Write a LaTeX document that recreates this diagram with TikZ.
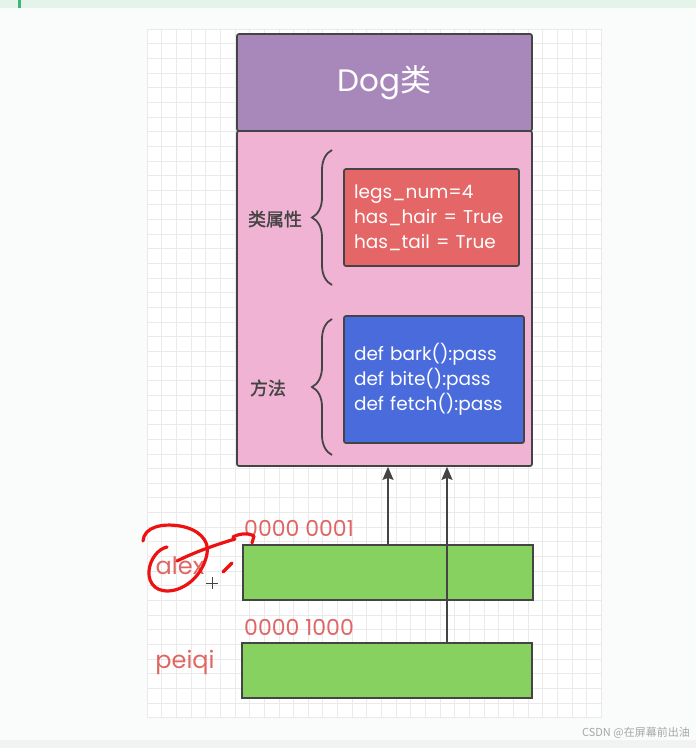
\documentclass[tikz,border=0pt]{standalone}
\usepackage{fontspec}
\setmainfont{Poppins}
\newfontfamily\cjk{Noto Sans CJK SC}
\newfontfamily\cjkb[FakeBold=1.5]{Noto Sans CJK SC}
\usetikzlibrary{arrows.meta,decorations.pathreplacing}
\definecolor{bgc}{HTML}{FAFBFB}
\definecolor{topband}{HTML}{E4F4EA}
\definecolor{topbar}{HTML}{3DB874}
\definecolor{botband}{HTML}{F1F2F2}
\definecolor{gridc}{HTML}{EAEAEA}
\definecolor{dogc}{HTML}{A887BB}
\definecolor{pinkc}{HTML}{F0B3D3}
\definecolor{redc}{HTML}{E46666}
\definecolor{bluec}{HTML}{4A6BDC}
\definecolor{greenc}{HTML}{87D160}
\definecolor{edgec}{HTML}{444444}
\definecolor{memc}{HTML}{E06666}
\definecolor{inkc}{HTML}{EE1111}
\tikzset{
  box/.style={draw=edgec, line width=1.7pt, rounded corners=2pt, inner sep=0pt},
  codebox/.style={box, minimum width=175pt, text width=155pt, inner xsep=10pt, align=left, text=white,
    font=\fontsize{18.5}{25}\selectfont},
  lbl/.style={text=edgec, font=\cjkb\fontsize{18}{20}\selectfont, inner sep=0pt},
  mem/.style={text=memc, font=\fontsize{22}{24}\selectfont, inner sep=0pt, anchor=west},
  var/.style={text=memc, font=\fontsize{24}{26}\selectfont, inner sep=0pt},
  brc/.style={draw=edgec, line width=1.8pt, decorate, decoration={brace, amplitude=20pt}},
  arr/.style={draw=edgec, line width=1.6pt, -{Stealth[length=13pt,width=11pt,inset=2pt,fill=edgec]}},
  ink/.style={draw=inkc, line width=3.2pt, line cap=round, line join=round},
  gridline/.style={draw=gridc, line width=0.7pt}
}
\begin{document}
\begin{tikzpicture}[x=1pt, y=-1pt]
% backgrounds
\fill[bgc] (0,0) rectangle (696,748);
\fill[topband] (0,0) rectangle (696,8);
\fill[topbar] (18,0) rectangle (21,8);
\fill[botband] (0,740) rectangle (696,748);
\fill[white] (147,29) rectangle (601,718);
\foreach \i in {0,...,31} \draw[gridline] ({147+14.65*\i},29) -- ({147+14.65*\i},718);
\foreach \j in {0,...,47} \draw[gridline] (147,{29+14.65*\j}) -- (601,{29+14.65*\j});
\useasboundingbox (0,0) rectangle (696,748);

% class boxes
\node[box, fill=pinkc, minimum width=295pt, minimum height=335pt] (pink) at (384.5,298.5) {};
\node[box, fill=dogc, minimum width=295pt, minimum height=97pt, text=white,
  font=\fontsize{31}{33}\selectfont] (dog) at (384.5,82.5) {Dog{\cjk 类}};
\node[codebox, fill=redc, minimum height=97pt] (attrs) at (431.5,217.5)
  {legs\_num=4\\has\_hair = True\\has\_tail = True};
\node[codebox, fill=bluec, minimum width=180pt, text width=160pt, minimum height=127pt] (meths) at (434,379.5)
  {def bark():pass\\def bite():pass\\def fetch():pass};

% braces and labels
\coordinate (b1t) at (332,150);
\coordinate (b1b) at (332,285);
\coordinate (b2t) at (332,319);
\coordinate (b2b) at (332,455);
\draw[brc] (b1b) -- (b1t);
\draw[brc] (b2b) -- (b2t);
\node[lbl] (l1) at (275,219) {类属性};
\node[lbl] (l2) at (268,388) {方法};

% memory boxes
\node[box, rounded corners=0pt, fill=greenc, minimum width=290pt, minimum height=55pt] (g1) at (388,572.5) {};
\node[box, rounded corners=0pt, fill=greenc, minimum width=290pt, minimum height=55pt] (g2) at (387,670.5) {};
\node[mem] (m1) at (244,528) {0000 0001};
\node[mem] (m2) at (244,627) {0000 1000};
\node[var] (v1) at (180,566) {alex};
\node[var] (v2) at (185,662) {peiqi};

% references
\coordinate (x1) at (388,0);
\coordinate (x2) at (447,0);
\draw[arr] (g1.north -| x1) -- (pink.south -| x1);
\draw[arr] (g2.north -| x2) -- (pink.south -| x2);

% hand-drawn annotation
\draw[ink] (143,541) .. controls (144,527) and (162,523) .. (180,526)
  .. controls (198,529) and (210,540) .. (207,554)
  .. controls (204,569) and (193,585) .. (175,590)
  .. controls (158,594) and (148,585) .. (149,571)
  .. controls (150,559) and (158,549) .. (167,547);
\draw[ink] (177,561) .. controls (195,552) and (215,545) .. (235,539);
\draw[ink] (233,537) .. controls (240,533) and (250,533) .. (254,536) -- (252,543);
\draw[ink] (223,572) -- (232,563);
\draw[edgec, line width=0.9pt] (206,583) -- (218,583) (212,577) -- (212,589);

% watermark
\node[anchor=east, text=gray!70, font=\cjk\fontsize{11}{12}\selectfont, inner sep=0pt] (wm) at (690,733) {CSDN @在屏幕前出油};
\end{tikzpicture}
\end{document}
